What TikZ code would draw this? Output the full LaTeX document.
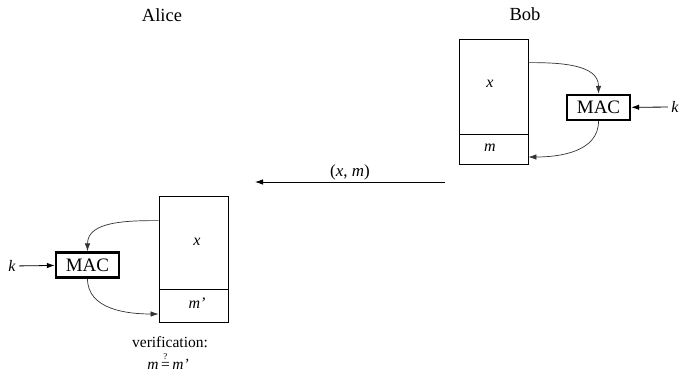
\documentclass[tikz,border=0pt]{standalone}
\usepackage{fontspec}
\setmainfont{Liberation Serif}
\usetikzlibrary{arrows.meta}
\begin{document}
\begin{tikzpicture}[x=1pt,y=-1pt,
  lbl/.style={font=\fontsize{18.5}{20}\selectfont},
  var/.style={font=\fontsize{16}{18}\selectfont\itshape},
  part/.style={draw, line width=0.8pt, minimum width=69pt, inner sep=0pt},
  mac/.style={draw, line width=2.4pt, minimum width=63pt, minimum height=25pt, inner sep=0pt, font=\fontsize{19}{20}\selectfont},
  arr/.style={-{Latex[length=8pt,width=5.5pt]}, line width=0.8pt},
  curv/.style={-{Latex[length=8pt,width=5.5pt]}, line width=0.7pt, draw=black!80}]
\useasboundingbox (0,0) rectangle (679,373);
% titles
\node[lbl] (alice) at (162,15) {Alice};
\node[lbl] (bob) at (525,14) {Bob};
% Bob
\node[part, minimum height=95pt] (bx) at (493.5,86.5) {};
\node[part, minimum height=30pt] (bm) at (493.5,149) {};
\node[var] (bxl) at (490,84) {x};
\node[var] (bml) at (490,148) {m};
\node[mac] (bmac) at (598.5,107.5) {MAC};
\node[var] (bk) at (675,107) {k};
\draw[arr] (bk) -- (bmac);
\draw[curv] ([yshift=-24pt]bx.north east) to[out=0,in=90] (bmac.north);
\draw[curv] (bmac.south) to[out=-90,in=0] ([yshift=-8pt]bm.east);
% message
\coordinate (ms) at (445,182);
\coordinate (me) at (255,182);
\draw[arr] (ms) -- (me) node[midway, above, inner sep=1.5pt, font=\fontsize{17}{18}\selectfont] {(\textit{x}, \textit{m})};
% Alice
\node[part, minimum height=93pt] (ax) at (193.5,242.5) {};
\node[part, minimum height=33pt] (am) at (193.5,305.5) {};
\node[var] (axl) at (197,242) {x};
\node[var] (aml) at (197,303) {m’};
\node[mac] (amac) at (87.5,265) {MAC};
\node[var] (ak) at (12,266) {k};
\draw[arr] (ak) -- (amac);
\draw[curv] ([yshift=-25pt]ax.north west) to[out=180,in=90] (amac.north);
\draw[curv] (amac.south) to[out=-90,in=180] ([yshift=-8.5pt]am.west);
\node[font=\fontsize{15.5}{17}\selectfont] (ver) at (170,342) {verification:};
\node[font=\fontsize{15.5}{16}\selectfont, inner sep=0pt] (eq) at (168,361) {\textit{m}\,$\stackrel{\mbox{\fontsize{9}{9}\selectfont ?}}{\mbox{=}}$\,\textit{m’}};
\end{tikzpicture}
\end{document}
